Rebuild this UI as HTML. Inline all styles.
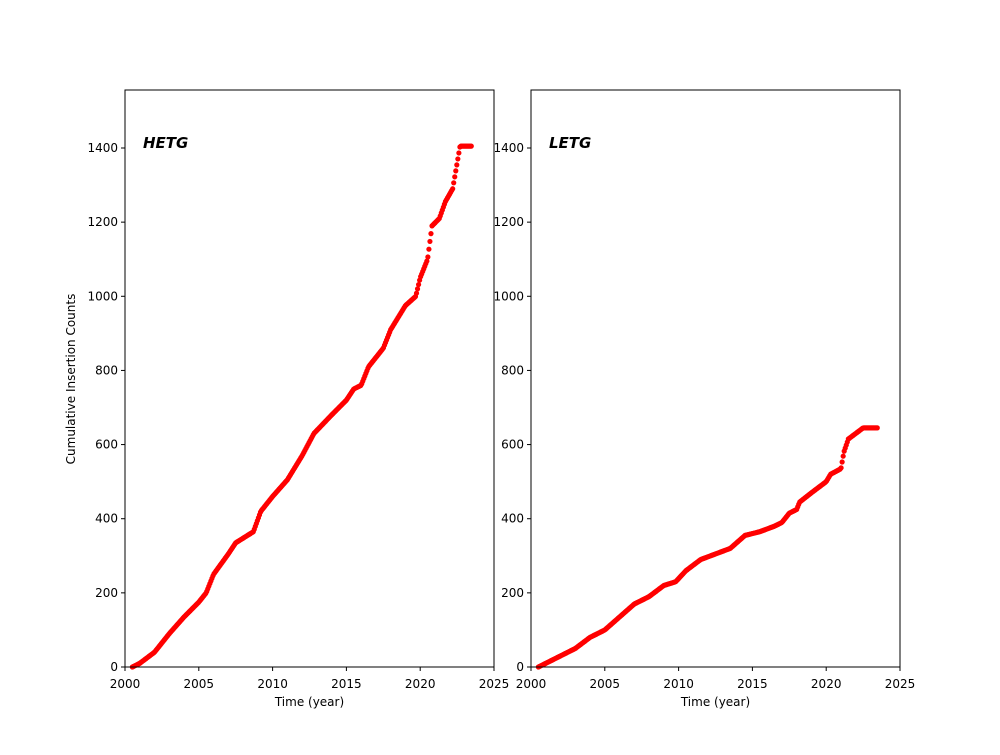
<!DOCTYPE html>
<html><head><meta charset="utf-8"><style>
body{margin:0;background:#fff;}
svg text{font-family:"DejaVu Sans","Liberation Sans",sans-serif;fill:#000;}
</style></head><body>
<svg id="s" width="1000" height="750" xmlns="http://www.w3.org/2000/svg">
<rect width="1000" height="750" fill="#fff"/>
<g id="g"></g>
</svg>
<script>
const svg=document.getElementById('g');
const NS='http://www.w3.org/2000/svg';
function el(t,a,txt){const e=document.createElementNS(NS,t);for(const k in a)e.setAttribute(k,a[k]);if(txt!==undefined)e.textContent=txt;svg.appendChild(e);return e;}
const T=90,B=667;
const ys=c=>B-c*(B-148)/1400;
const H=[[2000.5,0],[2001,10],[2002,40],[2003,90],[2004,135],[2005,175],[2005.5,200],[2006,250],[2007,305],[2007.5,335],[2008.7,365],[2009.2,420],[2010,460],[2011,505],[2012,570],[2012.8,630],[2014,680],[2015,720],[2015.5,750],[2016,760],[2016.5,810],[2017.5,860],[2018,910],[2019,975],[2019.7,1000],[2020,1050],[2020.5,1100],[2020.8,1190],[2021.3,1210],[2021.7,1255],[2022.2,1290],[2022.7,1405],[2023.5,1405]];
const L=[[2000.5,0],[2002,30],[2003,50],[2004,80],[2005,100],[2006,135],[2007,170],[2008,190],[2009,220],[2009.8,230],[2010.5,260],[2011.5,290],[2012.5,305],[2013.5,320],[2014.5,355],[2015.5,365],[2016.5,380],[2017,390],[2017.5,415],[2018,425],[2018.2,445],[2019,470],[2020,500],[2020.3,520],[2021,535],[2021.2,580],[2021.5,615],[2022.5,645],[2023.5,645]];
function interp(P,x){for(let i=0;i<P.length-1;i++){if(x<=P[i+1][0]){const t=(x-P[i][0])/(P[i+1][0]-P[i][0]);return P[i][1]+t*(P[i+1][1]-P[i][1]);}}return P[P.length-1][1];}
function panel(x0,P,label,ylab){
 const xs=y=>x0+(y-2000)*369/25;
 for(let x=P[0][0];x<=P[P.length-1][0];x+=0.07){el('circle',{cx:xs(x),cy:ys(interp(P,x)),r:2.6,fill:'#ff0000'});}
 el('rect',{x:x0,y:T,width:369,height:B-T,fill:'none',stroke:'#000','stroke-width':1});
 for(let y=2000;y<=2025;y+=5){const X=xs(y);el('line',{x1:X,y1:B,x2:X,y2:B+4,stroke:'#000'});el('text',{x:X,y:B+21,'font-size':12,'text-anchor':'middle'},y);}
 for(let c=0;c<=1400;c+=200){const Y=ys(c);el('line',{x1:x0,y1:Y,x2:x0-4,y2:Y,stroke:'#000'});el('text',{x:x0-7,y:Y+4,'font-size':12,'text-anchor':'end'},c);}
 el('text',{x:x0+184.5,y:706,'font-size':12,'text-anchor':'middle'},'Time (year)');
 el('text',{x:x0+18,y:148,'font-size':15,'font-weight':'bold','font-style':'italic'},label);
 if(ylab)el('text',{x:75,y:379,'font-size':12,'text-anchor':'middle',transform:'rotate(-90 75 379)'},'Cumulative Insertion Counts');
}
panel(125,H,'HETG',true);
panel(531,L,'LETG',false);
</script>
</body></html>
